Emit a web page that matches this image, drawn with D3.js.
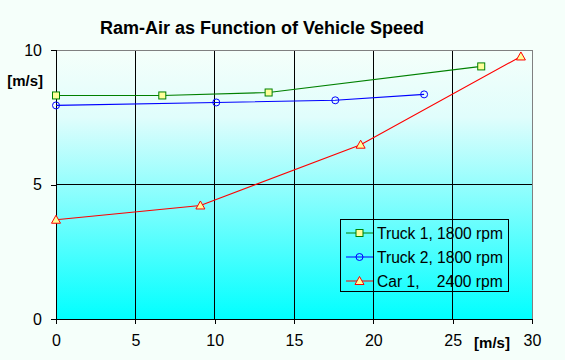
<!DOCTYPE html>
<html><head><meta charset="utf-8">
<script src="https://cdn.jsdelivr.net/npm/d3@7"></script>
<style>
html,body{margin:0;padding:0;background:#f5fffa;}
svg{display:block;font-family:Arial,"Liberation Sans",sans-serif;}
</style></head>
<body>
<svg id="chart" width="565" height="360"></svg>
<script>
const title = "Ram-Air as Function of Vehicle Speed";
const xTicks = [0, 5, 10, 15, 20, 25, 30];
const yTicks = [0, 5, 10];
const truck1X = [0, 6.7, 13.4, 26.8];
const truck1Y = [8.31, 8.31, 8.42, 9.39];
const truck2X = [0, 10.1, 17.6, 23.2];
const truck2Y = [7.94, 8.05, 8.13, 8.35];
const car1X = [0, 9.1, 19.2, 29.3];
const car1Y = [3.69, 4.22, 6.48, 9.76];
const seriesNames = ["Truck 1, 1800 rpm", "Truck 2, 1800 rpm", "Car 1,\u00a0\u00a0\u00a0 2400 rpm"];

const svg = d3.select("#chart");
const L = 56, R = 532, T = 50, B = 319;
const x = d3.scaleLinear().domain([0, 30]).range([L, R]);
const y = d3.scaleLinear().domain([0, 10]).range([B, T]);

const defs = svg.append("defs");
const g = defs.append("linearGradient").attr("id", "bg").attr("x1", 0).attr("y1", 0).attr("x2", 0).attr("y2", 1);
g.append("stop").attr("offset", "0%").attr("stop-color", "#f5fffa");
g.append("stop").attr("offset", "25%").attr("stop-color", "#e0fdfc");
g.append("stop").attr("offset", "100%").attr("stop-color", "#00ffff");

svg.append("rect").attr("x", 0).attr("y", 0).attr("width", 565).attr("height", 360).attr("fill", "#f5fffa");
svg.append("rect").attr("x", L).attr("y", T).attr("width", R - L).attr("height", B - T).attr("fill", "url(#bg)");

// gridlines
svg.append("g").selectAll("line").data(xTicks.filter(d => d > 0 && d < 30)).join("line")
  .attr("x1", d => x(d)).attr("x2", d => x(d)).attr("y1", T).attr("y2", B)
  .attr("stroke", "#000").attr("shape-rendering", "crispEdges");
svg.append("g").selectAll("line").data(yTicks.filter(d => d > 0 && d < 10)).join("line")
  .attr("y1", d => y(d)).attr("y2", d => y(d)).attr("x1", L).attr("x2", R)
  .attr("stroke", "#000").attr("shape-rendering", "crispEdges");

// border top/right gray
svg.append("path").attr("d", `M${L},${T}H${R}V${B}`).attr("fill", "none")
  .attr("stroke", "#808080").attr("shape-rendering", "crispEdges");

// axes
const xAxis = svg.append("g").attr("transform", `translate(0,${B})`)
  .call(d3.axisBottom(x).tickValues(xTicks).tickSize(5).tickPadding(11).tickFormat(d3.format("d")));
const yAxis = svg.append("g").attr("transform", `translate(${L},0)`)
  .call(d3.axisLeft(y).tickValues(yTicks).tickSize(5).tickPadding(9).tickFormat(d3.format("d")));
[xAxis, yAxis].forEach(a => {
  a.select(".domain").attr("stroke", "#000").attr("shape-rendering", "crispEdges");
  a.selectAll(".tick line").attr("stroke", "#000").attr("shape-rendering", "crispEdges");
  a.selectAll("text").attr("font-size", 16).attr("font-family", "Arial, 'Liberation Sans', sans-serif").attr("fill", "#000");
});
xAxis.select(".domain").attr("d", `M${L},0H${R}`);
yAxis.select(".domain").attr("d", `M0,${T}V${B}`);

// title
svg.append("text").attr("x", 262).attr("y", 34).attr("text-anchor", "middle")
  .attr("font-size", 18).attr("font-weight", "bold").text(title);
svg.append("text").attr("x", 43).attr("y", 86).attr("text-anchor", "end")
  .attr("font-size", 15).attr("font-weight", "bold").text("[m/s]");
svg.append("text").attr("x", 492).attr("y", 348).attr("text-anchor", "middle")
  .attr("font-size", 15).attr("font-weight", "bold").text("[m/s]");

const series = [
  {name: seriesNames[0], xs: truck1X, ys: truck1Y, color: "#008000", marker: "square"},
  {name: seriesNames[1], xs: truck2X, ys: truck2Y, color: "#0000ff", marker: "circle"},
  {name: seriesNames[2], xs: car1X, ys: car1Y, color: "#ff0000", marker: "triangle"}
];

function drawMarker(sel, s, cx, cy) {
  if (s.marker === "square") {
    sel.append("rect").attr("x", cx - 3.5).attr("y", cy - 3.5).attr("width", 7).attr("height", 7)
      .attr("fill", "#ffff99").attr("stroke", s.color);
  } else if (s.marker === "circle") {
    sel.append("circle").attr("cx", cx).attr("cy", cy).attr("r", 3.5)
      .attr("fill", "none").attr("stroke", s.color);
  } else {
    sel.append("path").attr("d", `M${cx},${cy - 4.5}L${cx + 4.5},${cy + 3.5}L${cx - 4.5},${cy + 3.5}Z`)
      .attr("fill", "#ffff99").attr("stroke", s.color);
  }
}

const line = d3.line().x(d => x(d[0])).y(d => y(d[1]));
series.forEach(s => {
  const pts = s.xs.map((v, i) => [v, s.ys[i]]);
  svg.append("path").datum(pts).attr("d", line).attr("fill", "none")
    .attr("stroke", s.color).attr("stroke-width", 1.1);
  const mg = svg.append("g");
  pts.forEach(p => drawMarker(mg, s, x(p[0]), y(p[1])));
});

// legend
const lg = svg.append("g");
lg.append("rect").attr("x", 340.5).attr("y", 219.5).attr("width", 168).attr("height", 72)
  .attr("fill", "none").attr("stroke", "#000");
series.forEach((s, i) => {
  const cy = 233 + i * 24;
  lg.append("line").attr("x1", 346).attr("x2", 373).attr("y1", cy).attr("y2", cy).attr("stroke", s.color);
  drawMarker(lg, s, 359.5, cy);
  lg.append("text").attr("x", 377).attr("y", cy + 6).attr("font-size", 15.6).attr("xml:space", "preserve").text(s.name);
});
</script>
</body></html>
